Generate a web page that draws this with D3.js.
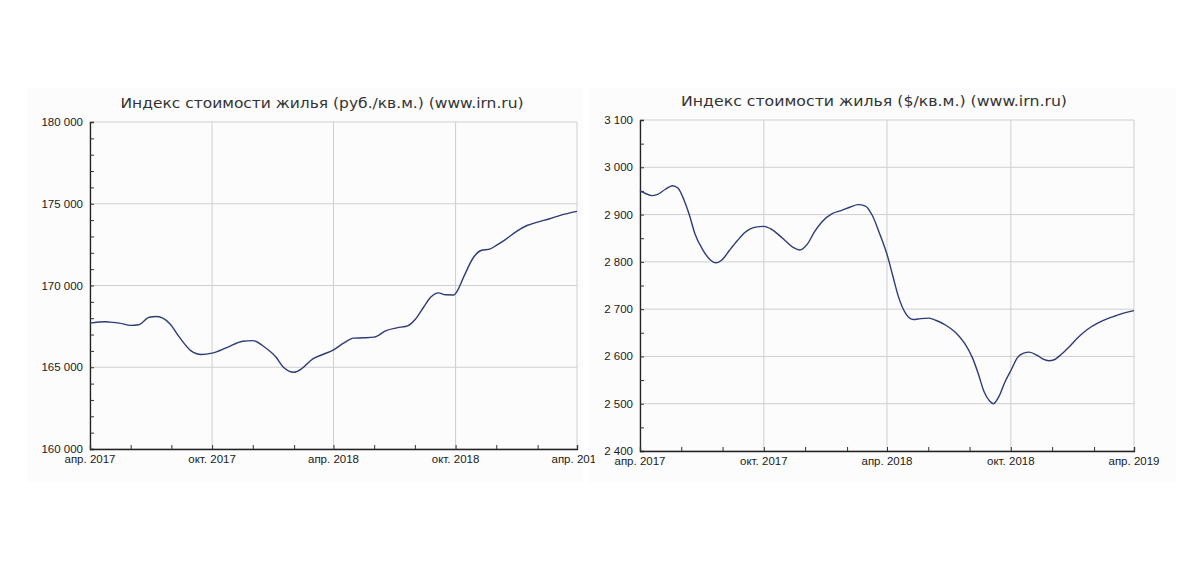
<!DOCTYPE html>
<html>
<head>
<meta charset="utf-8">
<script src="https://cdn.jsdelivr.net/npm/d3@7"></script>
<style>
  body { margin: 0; background: #fff; }
  svg { display: block; }
</style>
</head>
<body>
<div id="chart"></div>
<script>
// rub per sq.m.
const rubDates = ["2017-04-01","2017-04-24","2017-05-01","2017-05-15","2017-06-01","2017-06-13","2017-06-29",
  "2017-07-10","2017-07-30","2017-08-13","2017-08-30","2017-09-15","2017-10-01","2017-10-24","2017-11-16",
  "2017-12-01","2017-12-19","2018-01-05","2018-01-16","2018-02-01","2018-02-12","2018-03-01","2018-03-16",
  "2018-04-01","2018-04-16","2018-05-01","2018-05-16","2018-06-01","2018-06-19","2018-07-05","2018-07-22",
  "2018-08-01","2018-08-14","2018-08-25","2018-09-05","2018-09-16","2018-09-28","2018-10-04","2018-10-13",
  "2018-10-28","2018-11-08","2018-11-22","2018-12-01","2018-12-13","2019-01-01","2019-01-16","2019-02-01",
  "2019-02-19","2019-03-07","2019-04-01"];
const rubValues = [167700,167780,167760,167700,167560,167600,168060,
  168100,167650,166840,166020,165780,165860,166220,166590,
  166630,166220,165610,165000,164690,164900,165510,165780,
  166060,166470,166780,166800,166840,167240,167410,167550,
  167900,168670,169290,169550,169430,169420,169700,170510,
  171730,172140,172240,172450,172760,173330,173670,173880,
  174080,174290,174530];

// usd per sq.m.
const usdDates = ["2017-04-01","2017-04-10","2017-04-18","2017-04-26","2017-05-08","2017-05-19","2017-05-27",
  "2017-06-05","2017-06-13","2017-06-21","2017-07-03","2017-07-14","2017-07-22","2017-07-31","2017-08-11",
  "2017-08-23","2017-09-03","2017-09-17","2017-10-01","2017-10-12","2017-10-23","2017-11-03","2017-11-14",
  "2017-11-23","2017-12-04","2017-12-15","2017-12-26","2018-01-10","2018-01-24","2018-02-06","2018-02-17",
  "2018-02-28","2018-03-10","2018-03-21","2018-04-02","2018-04-10","2018-04-18","2018-04-29","2018-05-10",
  "2018-05-21","2018-06-02","2018-06-13","2018-06-27","2018-07-11","2018-07-25","2018-08-05","2018-08-14",
  "2018-08-22","2018-08-31","2018-09-05","2018-09-14","2018-09-22","2018-10-02","2018-10-11","2018-10-20",
  "2018-10-28","2018-11-09","2018-11-17","2018-11-26","2018-12-04","2018-12-15","2018-12-26","2019-01-09",
  "2019-01-23","2019-02-07","2019-02-21","2019-03-05","2019-03-18","2019-04-01"];
const usdValues = [2950,2944,2940,2942,2953,2961,2956,
  2931,2899,2860,2825,2804,2798,2804,2824,
  2845,2862,2873,2875,2869,2857,2843,2830,
  2825,2837,2864,2885,2902,2909,2916,2921,
  2918,2899,2860,2811,2768,2726,2690,2678,
  2680,2681,2676,2666,2651,2627,2598,2563,
  2527,2505,2500,2517,2545,2573,2598,2607,
  2609,2602,2595,2591,2593,2605,2620,2641,
  2658,2671,2680,2686,2692,2697];

const xStart = "2017-04-01", xEnd = "2019-04-01";
const monthNames = ["янв.","февр.","март","апр.","май","июнь","июль","авг.","сент.","окт.","нояб.","дек."];

const fmt = d3.formatLocale({decimal: ",", thousands: " ", grouping: [3], currency: ["", ""]}).format(",d");
const parse = d3.timeParse("%Y-%m-%d");

const W = 1200, H = 567;
const svg = d3.select("#chart").append("svg").attr("width", W).attr("height", H);
svg.append("rect").attr("width", W).attr("height", H).attr("fill", "#fff");
const bgLayer = svg.append("g");

function drawPanel(opt) {
  const p = opt.panel, m = opt.plot;
  bgLayer.append("rect").attr("x", p.x).attr("y", p.y).attr("width", p.w).attr("height", p.h).attr("fill", "#fcfcfc");

  // the source picture cuts the left chart's last label
  const clipId = "clip" + opt.id;
  svg.append("clipPath").attr("id", clipId).append("rect")
    .attr("x", p.x).attr("y", p.y).attr("width", opt.clipW).attr("height", p.h);
  const g = svg.append("g").attr("clip-path", `url(#${clipId})`);

  const t0 = parse(xStart), t1 = parse(xEnd);
  const x = d3.scaleTime().domain([t0, t1]).range([m.x0, m.x1]);
  const y = d3.scaleLinear().domain(opt.yDomain).range([m.y1, m.y0]);

  // grid every 6 months from april, minor ticks every 2 months
  const xMajor = d3.timeMonth.range(t0, d3.timeDay.offset(t1, 1), 6);
  const xMinor = d3.timeMonth.range(t0, d3.timeDay.offset(t1, 1), 2);
  const yMajor = d3.range(opt.yDomain[0], opt.yDomain[1] + 1, opt.yMajor);
  const yMinor = d3.range(opt.yDomain[0], opt.yDomain[1] + 1, opt.yMinor);

  g.selectAll(".gx").data(xMajor).join("line")
    .attr("x1", d => x(d)).attr("x2", d => x(d)).attr("y1", m.y0).attr("y2", m.y1)
    .attr("stroke", "#cfcfcf").attr("stroke-width", 1);
  g.selectAll(".gy").data(yMajor).join("line")
    .attr("x1", m.x0).attr("x2", m.x1).attr("y1", d => y(d)).attr("y2", d => y(d))
    .attr("stroke", "#cfcfcf").attr("stroke-width", 1);

  const ax = g.append("g").attr("transform", `translate(${m.x0},0)`)
    .call(d3.axisLeft(y).tickValues(yMinor).tickSize(-4).tickFormat(""));
  const bx = g.append("g").attr("transform", `translate(0,${m.y1})`)
    .call(d3.axisBottom(x).tickValues(xMinor).tickSize(-4).tickFormat(""));
  [ax, bx].forEach(a => {
    a.select(".domain").attr("stroke", "#222").attr("stroke-width", 1.3);
    a.selectAll(".tick line").attr("stroke", "#333");
  });

  // y labels
  g.selectAll(".yl").data(yMajor).join("text")
    .attr("x", m.x0 - 7).attr("y", d => y(d) + 4)
    .attr("text-anchor", "end")
    .attr("font-family", "Liberation Sans, Arial, sans-serif").attr("font-size", 11.5)
    .attr("fill", "#1a1a1a")
    .text(d => fmt(d));

  // x labels
  g.selectAll(".xl").data(xMajor).join("text")
    .attr("x", d => x(d)).attr("y", m.y1 + 14)
    .attr("text-anchor", "middle")
    .attr("font-family", "Liberation Sans, Arial, sans-serif").attr("font-size", 11.5)
    .attr("fill", "#1a1a1a")
    .text(d => monthNames[d.getMonth()] + " " + d.getFullYear());

  // series
  const pts = opt.dates.map((d, i) => [parse(d), opt.values[i]]);
  g.append("path").datum(pts)
    .attr("fill", "none").attr("stroke", "#2e3b78").attr("stroke-width", 1.4)
    .attr("d", d3.line().x(d => x(d[0])).y(d => y(d[1])).curve(d3.curveMonotoneX));

  // title
  svg.append("text")
    .attr("x", opt.title.x).attr("y", opt.title.y)
    .attr("text-anchor", "middle")
    .attr("font-family", "DejaVu Sans, Verdana, sans-serif").attr("font-size", 14)
    .attr("fill", "#333")
    .attr("textLength", opt.title.len).attr("lengthAdjust", "spacingAndGlyphs")
    .text(opt.title.text);
}

drawPanel({
  id: "rub",
  panel: {x: 27, y: 88, w: 556, h: 394}, clipW: 568,
  plot: {x0: 90, x1: 577, y0: 122, y1: 449},
  yDomain: [160000, 180000], yMajor: 5000, yMinor: 1000,
  dates: rubDates, values: rubValues,
  title: {x: 322, y: 108, len: 403, text: "Индекс стоимости жилья (руб./кв.м.) (www.irn.ru)"}
});

drawPanel({
  id: "usd",
  panel: {x: 588, y: 88, w: 588, h: 394}, clipW: 588,
  plot: {x0: 640, x1: 1134, y0: 120, y1: 451},
  yDomain: [2400, 3100], yMajor: 100, yMinor: 50,
  dates: usdDates, values: usdValues,
  title: {x: 874, y: 106, len: 386, text: "Индекс стоимости жилья ($/кв.м.) (www.irn.ru)"}
});
</script>
</body>
</html>
